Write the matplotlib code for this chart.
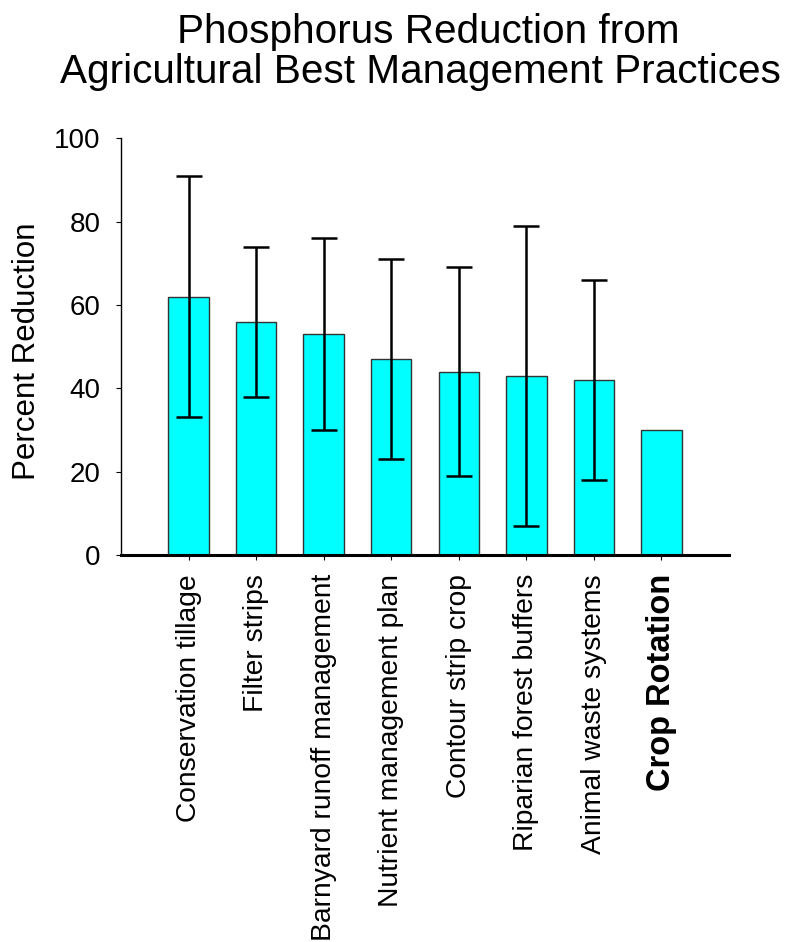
import matplotlib
matplotlib.use("Agg")
import matplotlib.pyplot as plt
import numpy as np

categories = ["Conservation tillage", "Filter strips", "Barnyard runoff management",
              "Nutrient management plan", "Contour strip crop", "Riparian forest buffers",
              "Animal waste systems", "Crop Rotation"]
values = [62, 56, 53, 47, 44, 43, 42, 30]
errors = [29, 18, 23, 24, 25, 36, 24, 0]
yticks = [0, 20, 40, 60, 80, 100]

plt.rcParams['font.family'] = ['Liberation Sans', 'DejaVu Sans']

fig = plt.figure(figsize=(7.88, 9.42), dpi=100)
ax = fig.add_axes([121/788, 1-555/942, (729-121)/788, (555-138.3)/942])

x = np.arange(len(categories))
ax.bar(x, values, width=0.6, color='#00FFFF', edgecolor='#333333', linewidth=1.0, zorder=2)
ex = x[:-1]
ax.errorbar(ex, values[:-1], yerr=errors[:-1], fmt='none', ecolor='black',
            elinewidth=1.8, capsize=9.2, capthick=1.8, zorder=3)

ax.set_xlim(-1, 8)
ax.set_ylim(0, 100)
ax.set_yticks(yticks)
ax.set_yticklabels([str(t) for t in yticks], fontsize=20)
ax.set_xticks(x)
ax.set_xticklabels(categories, rotation=90, fontsize=20.3, va='top', ha='center')
lab = ax.get_xticklabels()[-1]
lab.set_fontweight('bold')
lab.set_fontsize(23.5)

for s in ['top', 'right']:
    ax.spines[s].set_visible(False)
ax.spines['left'].set_linewidth(1.0)
ax.spines['bottom'].set_linewidth(2.2)
ax.tick_params(axis='y', direction='out', length=3.6, width=0.8, pad=11, colors='black')
ax.tick_params(axis='x', direction='out', length=3.6, width=0.8, pad=10, colors='black')

ax.set_ylabel("Percent Reduction", fontsize=22.5)
ax.yaxis.set_label_coords(-0.13, 0.49)

fig.text(428/788, 1-32/942, "Phosphorus Reduction from", fontsize=29.2, ha='center', va='center')
fig.text(420/788, 1-72/942, "Agricultural Best Management Practices", fontsize=29.2, ha='center', va='center')

fig.savefig("out.png", dpi=100, facecolor='white')
